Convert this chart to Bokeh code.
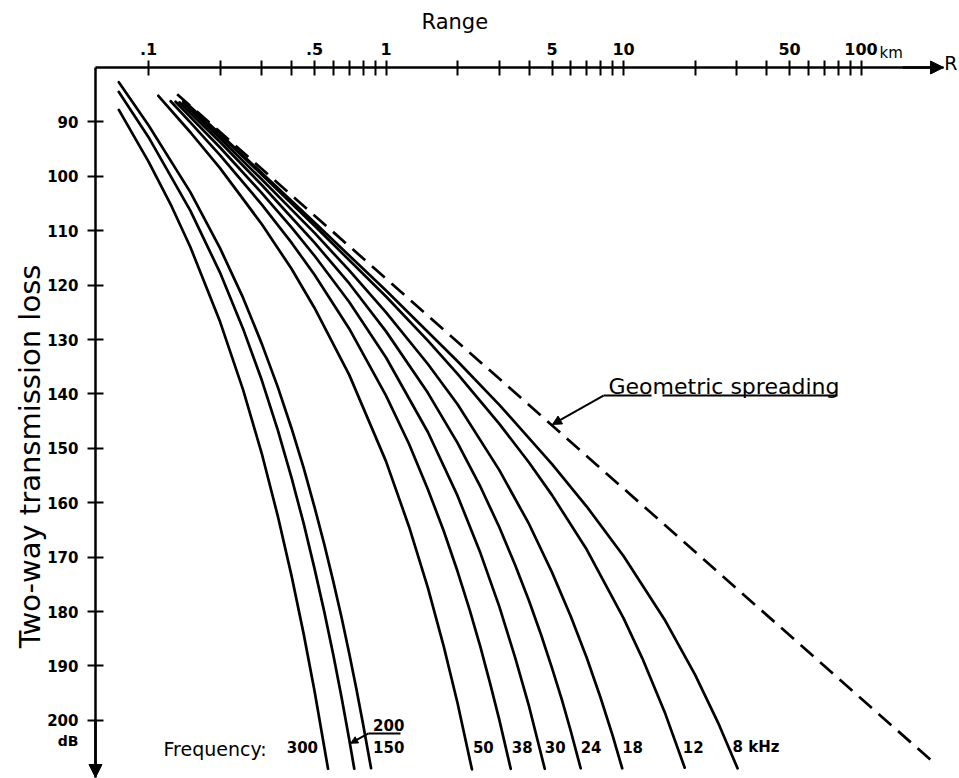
import math
from bokeh.plotting import figure
from bokeh.models import (Range1d, FixedTicker, CustomJSTickFormatter, Label,
                          Arrow, NormalHead)
from bokeh.embed import file_html
from bokeh.resources import INLINE

# ---------------- data (range in km, two-way transmission loss in dB) ----------------
frequencies = ["300", "200", "150", "50", "38", "30", "24", "18", "12", "8"]

range_300 = [0.075, 0.1, 0.125, 0.15, 0.2, 0.25, 0.3, 0.35, 0.4, 0.45, 0.5, 0.57]
tl_300 = [87.8, 97.3, 105.5, 113.0, 126.7, 139.2, 151.0, 162.4, 173.4, 184.1, 194.6, 208.9]

range_200 = [0.075, 0.1, 0.15, 0.2, 0.25, 0.3, 0.35, 0.4, 0.45, 0.5, 0.55, 0.6, 0.65, 0.7, 0.735]
tl_200 = [84.5, 92.8, 106.3, 117.7, 128.0, 137.5, 146.6, 155.4, 163.8, 172.1, 180.1, 188.0, 195.8, 203.5, 208.9]

range_150 = [0.075, 0.1, 0.15, 0.2, 0.25, 0.3, 0.35, 0.4, 0.45, 0.5, 0.55, 0.6, 0.65, 0.7, 0.75, 0.8, 0.865]
tl_150 = [82.7, 90.6, 102.9, 113.2, 122.3, 130.8, 138.7, 146.3, 153.6, 160.8, 167.7, 174.5, 181.1, 187.7, 194.2, 200.6, 208.8]

range_50 = [0.11, 0.15, 0.2, 0.3, 0.4, 0.5, 0.7, 1.0, 1.25, 1.5, 1.75, 2.0, 2.3]
tl_50 = [85.2, 91.9, 98.5, 108.8, 117.0, 124.2, 136.5, 152.4, 164.4, 175.6, 186.4, 196.8, 209.0]

range_38 = [0.124, 0.15, 0.2, 0.3, 0.4, 0.5, 0.7, 1.0, 1.25, 1.5, 1.75, 2.0, 2.25, 2.5, 2.75, 3.0, 3.35]
tl_38 = [86.2, 90.1, 96.1, 105.2, 112.2, 118.1, 128.0, 140.3, 149.2, 157.5, 165.2, 172.6, 179.7, 186.6, 193.4, 199.9, 208.9]

range_30 = [0.13, 0.2, 0.3, 0.4, 0.5, 0.7, 1.0, 1.5, 2.0, 2.5, 3.0, 3.5, 4.0, 4.66]
tl_30 = [86.3, 94.7, 103.1, 109.4, 114.6, 123.1, 133.3, 147.0, 158.7, 169.3, 179.1, 188.5, 197.4, 208.9]

range_24 = [0.135, 0.2, 0.3, 0.5, 0.7, 1.0, 1.5, 2.0, 2.5, 3.0, 3.5, 4.0, 4.5, 5.0, 5.5, 6.0, 6.6]
tl_24 = [86.4, 93.7, 101.6, 112.2, 119.7, 128.5, 139.8, 149.0, 157.1, 164.5, 171.5, 178.0, 184.3, 190.4, 196.2, 202.0, 208.8]

range_18 = [0.14, 0.2, 0.3, 0.5, 0.7, 1.0, 1.5, 2.0, 3.0, 4.0, 5.0, 6.0, 7.0, 8.0, 9.0, 9.87]
tl_18 = [86.5, 93.0, 100.6, 110.4, 117.3, 125.0, 134.5, 141.9, 154.0, 163.9, 172.8, 180.9, 188.5, 195.8, 202.8, 208.8]

range_12 = [0.14, 0.2, 0.3, 0.5, 1.0, 1.5, 2.0, 3.0, 4.0, 5.0, 7.0, 10.0, 12.0, 15.0, 18.1]
tl_12 = [86.2, 92.4, 99.7, 109.1, 122.1, 130.2, 136.3, 145.5, 152.6, 158.6, 168.6, 181.2, 188.6, 198.8, 208.7]

range_8 = [0.145, 0.2, 0.3, 0.5, 1.0, 2.0, 3.0, 5.0, 7.0, 10.0, 15.0, 20.0, 25.0, 30.2]
tl_8 = [86.6, 92.2, 99.4, 108.5, 121.0, 134.0, 142.0, 152.9, 160.7, 169.8, 181.7, 191.6, 200.4, 208.8]

geo_range = [0.132, 198.0]
geo_tl = [84.9, 207.4]

x_tick_values = [0.1, 0.5, 1, 5, 10, 50, 100]
x_tick_labels = [".1", ".5", "1", "5", "10", "50", "100"]
x_minor_ticks = [0.2, 0.3, 0.4, 0.6, 0.7, 0.8, 0.9, 2, 3, 4, 6, 7, 8, 9,
                 20, 30, 40, 60, 70, 80, 90]
y_tick_values = [90, 100, 110, 120, 130, 140, 150, 160, 170, 180, 190, 200]

curve_ranges = [range_300, range_200, range_150, range_50, range_38,
                range_30, range_24, range_18, range_12, range_8]
curve_tls = [tl_300, tl_200, tl_150, tl_50, tl_38, tl_30, tl_24, tl_18, tl_12, tl_8]

# ---------------- figure ----------------
FONT = "DejaVu Sans"
# the frame covers the whole canvas; the axes are pinned at the origin corner
X_LEFT, X_RIGHT = 0.02381, 259.8          # visible range extent (km)
Y_BOTTOM, Y_TOP = 210.684, 67.685         # visible loss extent (dB)
AX_X0, AX_X1 = 0.0598, 222.6              # x axis line extent
AX_Y0, AX_Y1 = 80.0, 210.5                # y axis line extent

p = figure(width=959, height=778, x_axis_type="log", x_axis_location="above",
           x_range=Range1d(X_LEFT, X_RIGHT), y_range=Range1d(Y_BOTTOM, Y_TOP),
           output_backend="svg", toolbar_location=None, title=None,
           min_border_left=0, min_border_right=0, min_border_top=0,
           min_border_bottom=0)
p.outline_line_color = None
p.xgrid.visible = False
p.ygrid.visible = False
p.background_fill_color = "white"
p.border_fill_color = "white"

# x axis (top, pinned at 80 dB)
xa = p.xaxis[0]
xa.fixed_location = AX_Y0
xa.bounds = (AX_X0, AX_X1)
xa.ticker = FixedTicker(ticks=x_tick_values, minor_ticks=x_minor_ticks)
xa.formatter = CustomJSTickFormatter(
    args=dict(vals=x_tick_values, labs=x_tick_labels),
    code="""
    for (let i = 0; i < vals.length; i++) {
        if (Math.abs(tick / vals[i] - 1) < 1e-6) { return labs[i]; }
    }
    return "";
    """)
xa.axis_line_width = 2.5
xa.axis_line_color = "black"
xa.major_tick_in = 8
xa.major_tick_out = 7
xa.minor_tick_in = 8
xa.minor_tick_out = 7
xa.major_tick_line_width = 2
xa.minor_tick_line_width = 2
xa.major_tick_line_color = "black"
xa.minor_tick_line_color = "black"
xa.major_label_standoff = 6
xa.major_label_text_font = FONT
xa.major_label_text_font_size = "16px"
xa.major_label_text_font_style = "bold"
xa.major_label_text_color = "black"

# y axis (left, pinned at the smallest range)
ya = p.yaxis[0]
ya.fixed_location = AX_X0
ya.bounds = (AX_Y0, AX_Y1)
ya.ticker = FixedTicker(ticks=y_tick_values)
ya.axis_line_width = 2.5
ya.axis_line_color = "black"
ya.major_tick_in = 8
ya.major_tick_out = 8
ya.major_tick_line_width = 2
ya.major_tick_line_color = "black"
ya.minor_tick_line_color = None
ya.major_label_standoff = 9
ya.major_label_text_font = FONT
ya.major_label_text_font_size = "15px"
ya.major_label_text_font_style = "bold"
ya.major_label_text_color = "black"

# axis arrow heads
p.add_layout(Arrow(end=NormalHead(size=13, fill_color="black", line_color="black"),
                   x_start=150, y_start=AX_Y0, x_end=AX_X1, y_end=AX_Y0,
                   line_width=2.5, line_color="black"))
p.add_layout(Arrow(end=NormalHead(size=13, fill_color="black", line_color="black"),
                   x_start=AX_X0, y_start=200, x_end=AX_X0, y_end=AX_Y1,
                   line_width=2.5, line_color="black"))

# curves
for rr, tt in zip(curve_ranges, curve_tls):
    p.line(rr, tt, line_width=2.7, line_color="black",
           line_cap="round", line_join="round")

# geometric spreading
p.line(geo_range, geo_tl, line_width=2.7, line_color="black", line_dash="17 9")

# ---------------- text ----------------
def lab(x, y, text, size="16px", style="normal", align="left",
        baseline="middle", angle=0.0, x_offset=0):
    p.add_layout(Label(x=x, y=y, text=text, text_font=FONT,
                       text_font_size=size, text_font_style=style,
                       text_align=align, text_baseline=baseline,
                       angle=angle, x_offset=x_offset, text_color="black"))

lab(1.411, 71.7, "Range", size="21px", baseline="alphabetic")
lab(224.0, 79.1, "R", size="19px")
lab(119.7, 77.25, "km", size="15px", baseline="alphabetic")
lab(0.0507, 203.7, "dB", size="14px", style="bold", align="right")
lab(0.0318, 151.5, "Two-way transmission loss", size="29px", align="center",
    angle=math.pi / 2)

# frequency labels at the end of each curve
row = 204.9
lab(0.1157, 205.3, "Frequency:", size="19px")
label_offsets = {"300": (-10, "right"), "200": (2, "left"), "150": (2, "left"),
                 "50": (1, "left"), "38": (1, "left"), "30": (0, "left"),
                 "24": (0, "left"), "18": (0, "left"), "12": (-2, "left"),
                 "8": (-5, "left")}
for f, rr in zip(frequencies, curve_ranges):
    off, al = label_offsets[f]
    txt = "8 kHz" if f == "8" else f
    if f == "200":
        lab(range_150[-1], 200.9, txt, size="15px", style="bold", align=al, x_offset=off)
    else:
        lab(rr[-1], row, txt, size="15px", style="bold", align=al, x_offset=off)

# 200 underline + leader
p.add_layout(Arrow(end=None, x_start=0.844, y_start=202.4, x_end=1.151, y_end=202.4,
                   line_width=2, line_color="black"))
p.add_layout(Arrow(end=NormalHead(size=7, fill_color="black", line_color="black"),
                   x_start=0.844, y_start=202.4, x_end=0.71, y_end=204.2,
                   line_width=2, line_color="black"))

# Geometric spreading label, underline and leader
lab(8.647, 138.6, "Geometric spreading", size="22px", baseline="alphabetic")
p.add_layout(Arrow(end=None, x_start=8.236, y_start=140.3, x_end=13.12, y_end=140.3,
                   line_width=2, line_color="black"))
p.add_layout(Arrow(end=None, x_start=14.59, y_start=140.3, x_end=79.6, y_end=140.3,
                   line_width=2, line_color="black"))
p.add_layout(Arrow(end=NormalHead(size=9, fill_color="black", line_color="black"),
                   x_start=8.236, y_start=140.3, x_end=5.02, y_end=145.6,
                   line_width=2, line_color="black"))

open("out.html", "w").write(file_html(p, INLINE))
